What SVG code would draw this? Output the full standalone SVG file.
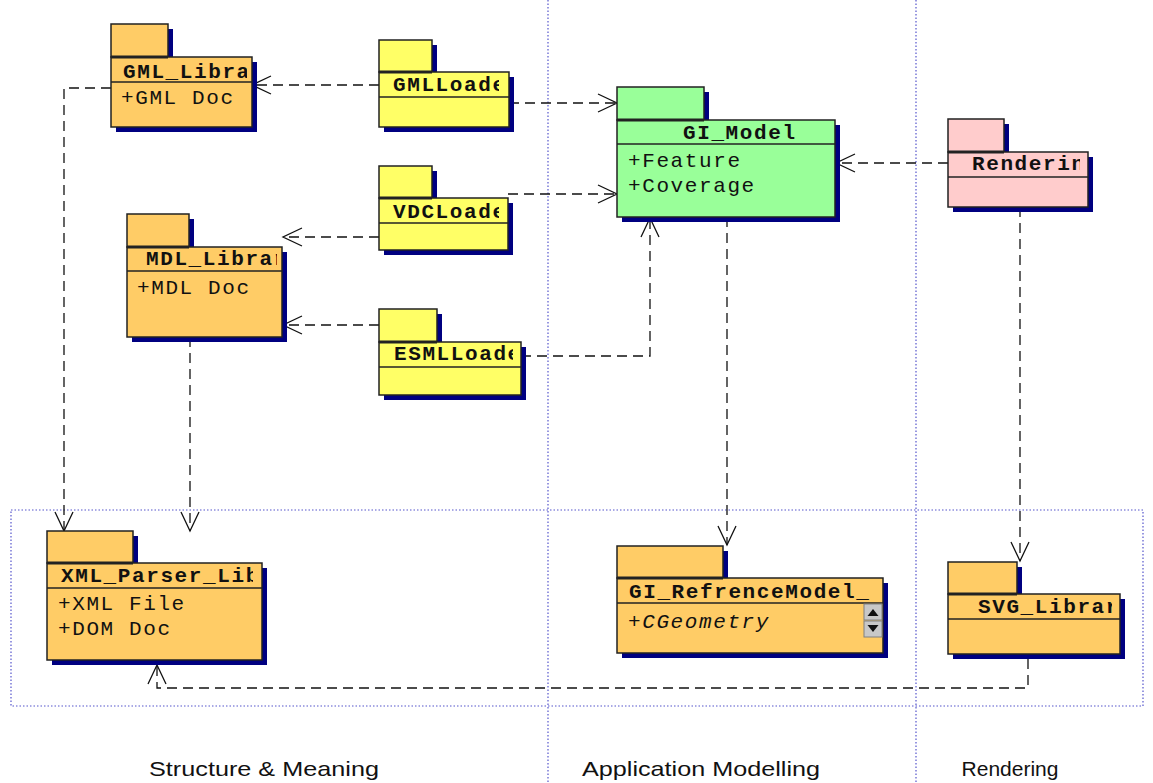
<svg xmlns="http://www.w3.org/2000/svg" width="1153" height="783" viewBox="0 0 1153 783">
<style>
.bg{fill:#ffffff}
.shadow{fill:#000080}
.box{stroke:#222222;stroke-width:1.5}
.orange{fill:#ffcc66}
.yellow{fill:#ffff66}
.green{fill:#99ff99}
.pink{fill:#ffcccc}
.div{stroke:#222222;stroke-width:1.5}
.sep{stroke:#222222;stroke-width:3}
.title{font-family:"Liberation Mono","DejaVu Sans Mono",monospace;font-weight:bold;font-size:21px;letter-spacing:1.6px;fill:#111111}
.attr{font-family:"Liberation Mono","DejaVu Sans Mono",monospace;font-size:21px;letter-spacing:1.6px;fill:#111111}
.ital{font-style:italic}
.conn{fill:none;stroke:#111111;stroke-width:1.3;stroke-dasharray:10 6}
.dot{fill:none;stroke:#5555cc;stroke-width:1.2;stroke-dasharray:1.5 2}
.lane{font-family:"Liberation Sans",Arial,sans-serif;font-size:21px;fill:#111111}
.sb{fill:#c8c8c8;stroke:#808080;stroke-width:1}
</style>
<defs>
<marker id="arr" viewBox="-21 -11 23 22" refX="0" refY="0" markerWidth="23" markerHeight="22" markerUnits="userSpaceOnUse" orient="auto">
<path d="M-19,-9 L0,0 L-19,9" fill="none" stroke="#111111" stroke-width="1.3" stroke-dasharray="none"/>
</marker>
<clipPath id="c-gml"><rect x="111" y="57" width="136" height="25"/></clipPath>
<clipPath id="c-gmll"><rect x="379" y="72" width="120" height="25"/></clipPath>
<clipPath id="c-gim"><rect x="617" y="120" width="213" height="24"/></clipPath>
<clipPath id="c-ren"><rect x="948" y="152" width="132" height="25"/></clipPath>
<clipPath id="c-vdc"><rect x="379" y="198" width="120" height="25"/></clipPath>
<clipPath id="c-mdl"><rect x="127" y="247" width="150" height="24"/></clipPath>
<clipPath id="c-esml"><rect x="379" y="342" width="134" height="25"/></clipPath>
<clipPath id="c-xml"><rect x="47" y="563" width="206" height="25"/></clipPath>
<clipPath id="c-gir"><rect x="617" y="578" width="258" height="25"/></clipPath>
<clipPath id="c-svg"><rect x="948" y="594" width="164" height="25"/></clipPath>
</defs>
<rect class="bg" x="0" y="0" width="1153" height="783"/>

<g id="swimlanes">
<rect class="dot" x="11" y="510" width="1132" height="196"/>
<line class="dot" x1="548" y1="0" x2="548" y2="783"/>
<line class="dot" x1="916" y1="0" x2="916" y2="783"/>
<text class="lane" x="264" y="776" text-anchor="middle" textLength="230" lengthAdjust="spacingAndGlyphs">Structure &amp; Meaning</text>
<text class="lane" x="701" y="776" text-anchor="middle" textLength="238" lengthAdjust="spacingAndGlyphs">Application Modelling</text>
<text class="lane" x="1010" y="776" text-anchor="middle">Rendering</text>
</g>

<g id="connectors">
<path class="conn" d="M379,85 L252,85" marker-end="url(#arr)"/>
<path class="conn" d="M509,103 L617,103" marker-end="url(#arr)"/>
<path class="conn" d="M379,237 L283,237" marker-end="url(#arr)"/>
<path class="conn" d="M508,194 L617,194" marker-end="url(#arr)"/>
<path class="conn" d="M379,325 L283,325" marker-end="url(#arr)"/>
<path class="conn" d="M521,356 L650,356 L650,218" marker-end="url(#arr)"/>
<path class="conn" d="M111,88 L64,88 L64,531" marker-end="url(#arr)"/>
<path class="conn" d="M190,337 L190,531" marker-end="url(#arr)"/>
<path class="conn" d="M727,217 L727,545" marker-end="url(#arr)"/>
<path class="conn" d="M948,163 L836,163" marker-end="url(#arr)"/>
<path class="conn" d="M1020,207 L1020,561" marker-end="url(#arr)"/>
<path class="conn" d="M1028,659 L1028,688 L157,688 L157,665" marker-end="url(#arr)"/>
</g>

<g id="GML_Library">
<rect class="shadow" x="116" y="29" width="57" height="33"/>
<rect class="shadow" x="116" y="62" width="141" height="70"/>
<rect class="box orange" x="111" y="24" width="57" height="33"/>
<rect class="box orange" x="111" y="57" width="141" height="70"/>
<line class="sep" x1="111" y1="57" x2="168" y2="57"/>
<line class="div" x1="111" y1="82" x2="252" y2="82"/>
<text class="title" x="123" y="78" clip-path="url(#c-gml)">GML_Library</text>
<text class="attr" x="121" y="104">+GML Doc</text>
</g>

<g id="GMLLoader">
<rect class="shadow" x="384" y="45" width="53" height="32"/>
<rect class="shadow" x="384" y="77" width="130" height="55"/>
<rect class="box yellow" x="379" y="40" width="53" height="32"/>
<rect class="box yellow" x="379" y="72" width="130" height="55"/>
<line class="sep" x1="379" y1="72" x2="432" y2="72"/>
<line class="div" x1="379" y1="97" x2="509" y2="97"/>
<text class="title" x="393" y="91" clip-path="url(#c-gmll)">GMLLoader</text>
</g>

<g id="GI_Model">
<rect class="shadow" x="622" y="92" width="87" height="33"/>
<rect class="shadow" x="622" y="125" width="218" height="97"/>
<rect class="box green" x="617" y="87" width="87" height="33"/>
<rect class="box green" x="617" y="120" width="218" height="97"/>
<line class="sep" x1="617" y1="120" x2="704" y2="120"/>
<line class="div" x1="617" y1="144" x2="835" y2="144"/>
<text class="title" x="683" y="139" clip-path="url(#c-gim)">GI_Model</text>
<text class="attr" x="628" y="167">+Feature</text>
<text class="attr" x="628" y="192">+Coverage</text>
</g>

<g id="Rendering">
<rect class="shadow" x="953" y="124" width="56" height="33"/>
<rect class="shadow" x="953" y="157" width="140" height="55"/>
<rect class="box pink" x="948" y="119" width="56" height="33"/>
<rect class="box pink" x="948" y="152" width="140" height="55"/>
<line class="sep" x1="948" y1="152" x2="1004" y2="152"/>
<line class="div" x1="948" y1="177" x2="1088" y2="177"/>
<text class="title" x="972" y="170" clip-path="url(#c-ren)">Rendering</text>
</g>

<g id="VDCLoader">
<rect class="shadow" x="384" y="171" width="53" height="32"/>
<rect class="shadow" x="384" y="203" width="129" height="52"/>
<rect class="box yellow" x="379" y="166" width="53" height="32"/>
<rect class="box yellow" x="379" y="198" width="129" height="52"/>
<line class="sep" x1="379" y1="198" x2="432" y2="198"/>
<line class="div" x1="379" y1="223" x2="508" y2="223"/>
<text class="title" x="393" y="218" clip-path="url(#c-vdc)">VDCLoader</text>
</g>

<g id="MDL_Library">
<rect class="shadow" x="132" y="219" width="62" height="33"/>
<rect class="shadow" x="132" y="252" width="155" height="90"/>
<rect class="box orange" x="127" y="214" width="62" height="33"/>
<rect class="box orange" x="127" y="247" width="155" height="90"/>
<line class="sep" x1="127" y1="247" x2="189" y2="247"/>
<line class="div" x1="127" y1="271" x2="282" y2="271"/>
<text class="title" x="146" y="265" clip-path="url(#c-mdl)">MDL_Library</text>
<text class="attr" x="137" y="294">+MDL Doc</text>
</g>

<g id="ESMLLoader">
<rect class="shadow" x="384" y="314" width="58" height="33"/>
<rect class="shadow" x="384" y="347" width="142" height="53"/>
<rect class="box yellow" x="379" y="309" width="58" height="33"/>
<rect class="box yellow" x="379" y="342" width="142" height="53"/>
<line class="sep" x1="379" y1="342" x2="437" y2="342"/>
<line class="div" x1="379" y1="367" x2="521" y2="367"/>
<text class="title" x="394" y="360" clip-path="url(#c-esml)">ESMLLoader</text>
</g>

<g id="XML_Parser_Library">
<rect class="shadow" x="52" y="536" width="86" height="32"/>
<rect class="shadow" x="52" y="568" width="215" height="97"/>
<rect class="box orange" x="47" y="531" width="86" height="32"/>
<rect class="box orange" x="47" y="563" width="215" height="97"/>
<line class="sep" x1="47" y1="563" x2="133" y2="563"/>
<line class="div" x1="47" y1="588" x2="262" y2="588"/>
<text class="title" x="61" y="582" clip-path="url(#c-xml)">XML_Parser_Library</text>
<text class="attr" x="58" y="610">+XML File</text>
<text class="attr" x="58" y="635">+DOM Doc</text>
</g>

<g id="GI_RefrenceModel">
<rect class="shadow" x="622" y="551" width="106" height="32"/>
<rect class="shadow" x="622" y="583" width="266" height="75"/>
<rect class="box orange" x="617" y="546" width="106" height="32"/>
<rect class="box orange" x="617" y="578" width="266" height="75"/>
<line class="sep" x1="617" y1="578" x2="723" y2="578"/>
<line class="div" x1="617" y1="603" x2="883" y2="603"/>
<text class="title" x="629" y="598" clip-path="url(#c-gir)">GI_RefrenceModel_</text>
<text class="attr ital" x="628" y="628">+CGeometry</text>
<rect class="sb" x="864" y="604" width="18" height="16"/>
<path d="M867.5,616 L873,609 L878.5,616 Z" fill="#111111"/>
<rect class="sb" x="864" y="621" width="18" height="16"/>
<path d="M867.5,625 L873,632 L878.5,625 Z" fill="#111111"/>
</g>

<g id="SVG_Library">
<rect class="shadow" x="953" y="567" width="69" height="32"/>
<rect class="shadow" x="953" y="599" width="172" height="60"/>
<rect class="box orange" x="948" y="562" width="69" height="32"/>
<rect class="box orange" x="948" y="594" width="172" height="60"/>
<line class="sep" x1="948" y1="594" x2="1017" y2="594"/>
<line class="div" x1="948" y1="619" x2="1120" y2="619"/>
<text class="title" x="978" y="613" clip-path="url(#c-svg)">SVG_Library</text>
</g>
</svg>
